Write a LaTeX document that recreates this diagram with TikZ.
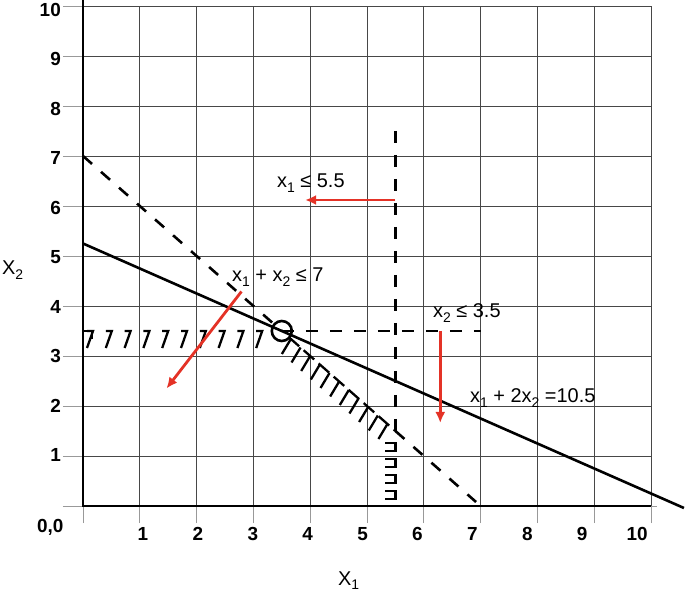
\documentclass[tikz,border=0pt]{standalone}
\usepackage{fontspec}
\setmainfont{Liberation Sans}
\usetikzlibrary{arrows.meta,calc}
\definecolor{redarrow}{RGB}{228,50,38}
\newcommand\lsub[1]{\raisebox{-4.5bp}{\fontsize{14}{14}\selectfont #1}}
\begin{document}
\begin{tikzpicture}[x=56.8bp,y=50bp,
  gridline/.style={line width=0.9bp,black!72},
  tickext/.style={line width=0.9bp,black!40},
  axisline/.style={line width=2bp,black},
  cline/.style={line width=2.6bp,black},
  dline/.style={line width=2.6bp,black,dash pattern=on 12bp off 12bp},
  hatch/.style={line width=2.3bp,black},
  redarr/.style={line width=2.8bp,redarrow,-{Latex[length=11bp,width=10bp]}},
  lbl/.style={font=\fontsize{20}{22}\selectfont,inner sep=0pt,anchor=base west},
  num/.style={font=\fontsize{19}{21}\selectfont\bfseries,inner sep=0pt},
]
\useasboundingbox (-83bp,-91bp) rectangle (602bp,506bp);
% grid
\foreach \i in {1,...,10} {
  \draw[gridline] (\i,0) -- (\i,10);
  \draw[tickext] ([yshift=-17bp]\i,0) -- (\i,0);
  \draw[gridline] (0,\i) -- (10,\i);
  \draw[tickext] ([xshift=-20bp]0,\i) -- (0,\i);
}
\draw[tickext] ([xshift=-20bp]0,0) -- (0,0);
\draw[tickext] ([yshift=-17bp]0,0) -- (0,0);
\draw[tickext] (10,0) -- ([xshift=6bp]10,0);
\draw[axisline] (0,10.12) -- (0,0) -- (10,0);
% objective line
\draw[cline] (0,5.25) -- (10.58,-0.04);
% dashed constraints
\draw[dline] (0,7) -- (3.5,3.5);
\draw[dline] (5.5,1.5) -- (6.92,0.08);
\draw[dline] (3.5,3.5) -- (7,3.5);
\draw[dline] (5.5,7.5) -- (5.5,1.5);
% hatching along x2 = 3.5
\draw[hatch] (0,3.5) -- ++(9bp,0) -- ++(0,-8bp);
\foreach \i in {0,...,9} {
  \pgfmathsetmacro\px{4+18.8*\i}
  \draw[hatch] ([xshift=\px bp]0,3.5) -- ++(6bp,0) -- ++(-6bp,-17bp);
}
% hatching along x1 + x2 = 7
\draw[hatch,dash pattern=on 14bp off 6bp] ($(3.5,3.5)!0.06!(5.5,1.5)$) -- (5.5,1.5);
\foreach \t in {0.08,0.165,0.25,0.335,0.42,0.505,0.59,0.675,0.76,0.845,0.93} {
  \draw[hatch] ($(3.5,3.5)!\t!(5.5,1.5)$) -- ++(-9bp,-15bp);
}
% hatching along x1 = 5.5
\foreach \a in {443,459,475,491} {
  \pgfmathsetmacro\ya{(506-\a)/50}
  \pgfmathsetmacro\yb{(506-\a-8)/50}
  \draw[hatch] ([xshift=-10bp]5.5,\ya) -- (5.5,\ya) -- (5.5,\yb) -- ([xshift=-10bp]5.5,\yb);
}
% optimum
\node[circle,draw,line width=2.6bp,minimum size=20bp,inner sep=0pt] (opt) at (3.5,3.5) {};
% red arrows
\coordinate (a1s) at (5.5,6.12); \coordinate (a1e) at (3.91,6.12);
\coordinate (a2s) at (6.29,3.5); \coordinate (a2e) at (6.29,1.66);
\coordinate (a3s) at (2.79,4.29); \coordinate (a3e) at (1.47,2.35);
\draw[redarr] (a1s) -- (a1e);
\draw[redarr] (a2s) -- (a2e);
\draw[redarr] (a3s) -- (a3e);
% labels
\node[lbl] (c1) at (194bp,318bp) {x\lsub{1} ≤ 5.5};
\node[lbl] (c2) at (149bp,224bp) {x\lsub{1} + x\lsub{2} ≤ 7};
\node[lbl] (c3) at (350bp,188bp) {x\lsub{2} ≤ 3.5};
\node[lbl] (obj) at (387bp,103bp) {x\lsub{1} + 2x\lsub{2} =10.5};
\node[lbl] (ax2) at (-81bp,231bp) {X\lsub{2}};
\node[lbl] (ax1) at (255bp,-79bp) {X\lsub{1}};
\node[num,anchor=base west] (orig) at (-46bp,-26bp) {0,0};
\foreach \i in {1,...,10} {
  \pgfmathsetmacro\px{60+54.9*(\i-1)}
  \node[num,anchor=base] (xt\i) at (\px bp,-34bp) {\i};
  \pgfmathsetmacro\py{50*\i-6-0.45*(\i-1)}
  \node[num,anchor=base east] (yt\i) at (-22bp,\py bp) {\i};
}
\end{tikzpicture}
\end{document}
